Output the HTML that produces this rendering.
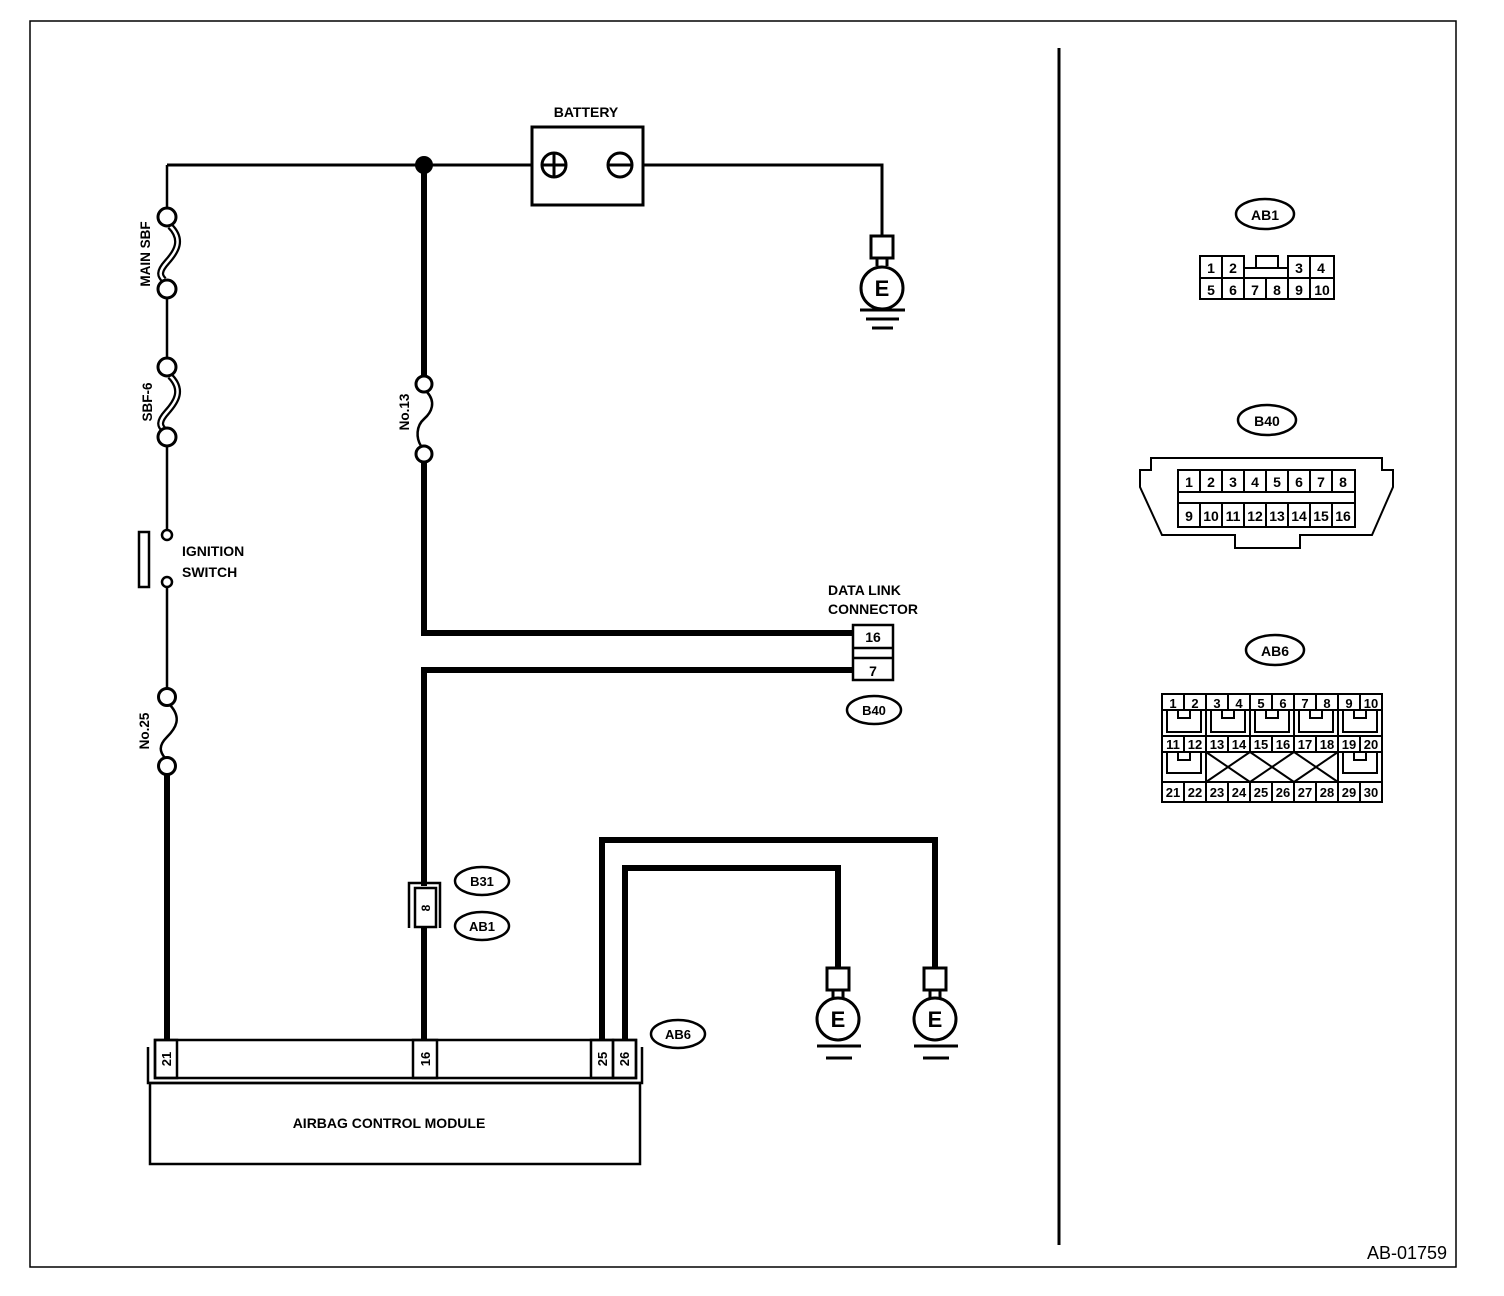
<!DOCTYPE html>
<html><head><meta charset="utf-8"><style>
html,body{margin:0;padding:0;background:#fff}
svg{display:block}
text{font-family:"Liberation Sans",Arial,sans-serif;font-weight:bold;fill:#000}
</style></head><body>
<svg width="1504" height="1296" viewBox="0 0 1504 1296" xmlns="http://www.w3.org/2000/svg">
<rect x="30" y="21" width="1426" height="1246" fill="none" stroke="#000" stroke-width="1.5"/>
<line x1="1059" y1="48" x2="1059" y2="1245" stroke="#000" stroke-width="3"/>

<g stroke="#000" fill="none">
<line x1="167" y1="165" x2="532" y2="165" stroke-width="3"/>
<polyline points="643,165 882,165 882,236" stroke-width="3"/>
<rect x="532" y="127" width="111" height="78" stroke-width="3"/>
<circle cx="554" cy="165" r="12" stroke-width="3"/>
<line x1="554" y1="153" x2="554" y2="177" stroke-width="3"/>
<line x1="542" y1="165" x2="566" y2="165" stroke-width="3"/>
<circle cx="620" cy="165" r="12" stroke-width="3" fill="#fff"/>
<line x1="608" y1="165" x2="632" y2="165" stroke-width="3"/>
</g>
<circle cx="424" cy="165" r="9" fill="#000"/>
<text x="586" y="117" font-size="14" text-anchor="middle">BATTERY</text>

<g stroke="#000" fill="none" stroke-width="3">
<rect x="871" y="236" width="22" height="22" fill="#fff"/>
<line x1="877" y1="258" x2="877" y2="266"/><line x1="887" y1="258" x2="887" y2="266"/>
<circle cx="882" cy="288" r="21" fill="#fff"/>
<line x1="860" y1="310" x2="905" y2="310"/>
<line x1="866" y1="319" x2="899" y2="319"/>
<line x1="872" y1="328" x2="893" y2="328"/>
</g>
<text x="882" y="296" font-size="22" text-anchor="middle">E</text>

<g stroke="#000" fill="none">
<line x1="167" y1="165" x2="167" y2="208" stroke-width="2.5"/>
<line x1="167" y1="298" x2="167" y2="358" stroke-width="2.5"/>
<line x1="167" y1="446" x2="167" y2="530" stroke-width="2.5"/>
<line x1="167" y1="588" x2="167" y2="688" stroke-width="2.5"/>
<line x1="167" y1="775" x2="167" y2="1040" stroke-width="6"/>
<path d="M170,226 C184,240 176,252 167,262 C158,272 160,276 164,280" stroke-width="7"/>
<path d="M170,226 C184,240 176,252 167,262 C158,272 160,276 164,280" stroke-width="2.5" stroke="#fff"/>
<circle cx="167" cy="217" r="9" stroke-width="3" fill="#fff"/>
<circle cx="167" cy="289" r="9" stroke-width="3" fill="#fff"/>
<path d="M170,376 C184,390 176,402 167,412 C158,422 160,426 164,430" stroke-width="7"/>
<path d="M170,376 C184,390 176,402 167,412 C158,422 160,426 164,430" stroke-width="2.5" stroke="#fff"/>
<circle cx="167" cy="367" r="9" stroke-width="3" fill="#fff"/>
<circle cx="167" cy="437" r="9" stroke-width="3" fill="#fff"/>
<circle cx="167" cy="535" r="5" stroke-width="2.5"/>
<circle cx="167" cy="582" r="5" stroke-width="2.5"/>
<rect x="139" y="532" width="10" height="55" stroke-width="2.5"/>
<path d="M170,705 C182,718 176,728 167,737 C158,746 160,752 165,758" stroke-width="2.5"/>
<circle cx="167" cy="697" r="8.5" stroke-width="3" fill="#fff"/>
<circle cx="167" cy="766" r="8.5" stroke-width="3" fill="#fff"/>
</g>
<text transform="translate(150,254) rotate(-90)" font-size="13.5" text-anchor="middle">MAIN SBF</text>
<text transform="translate(152,402) rotate(-90)" font-size="13.5" text-anchor="middle">SBF-6</text>
<text x="182" y="556" font-size="14">IGNITION</text>
<text x="182" y="577" font-size="14">SWITCH</text>
<text transform="translate(149,731) rotate(-90)" font-size="13.5" text-anchor="middle">No.25</text>

<g stroke="#000" fill="none">
<line x1="424" y1="165" x2="424" y2="377" stroke-width="6"/>
<path d="M427,392 C436,402 432,412 424,419 C416,426 416,438 421,446" stroke-width="2.5"/>
<circle cx="424" cy="384" r="8" stroke-width="3" fill="#fff"/>
<circle cx="424" cy="454" r="8" stroke-width="3" fill="#fff"/>
<polyline points="424,462 424,633 853,633" stroke-width="6"/>
<polyline points="853,670 424,670 424,886" stroke-width="6"/>
<line x1="424" y1="927" x2="424" y2="1040" stroke-width="6"/>
<polyline points="409,928 409,883 440,883 440,928" stroke-width="2.5"/>
<rect x="415" y="888" width="21" height="39" stroke-width="2.5" fill="#fff"/>
<rect x="853" y="625" width="40" height="55" stroke-width="2.5" fill="#fff"/>
<line x1="853" y1="648" x2="893" y2="648" stroke-width="2.5"/>
<line x1="853" y1="658" x2="893" y2="658" stroke-width="2.5"/>
<ellipse cx="874" cy="710" rx="27" ry="14" stroke-width="2.5"/>
<ellipse cx="482" cy="881" rx="27" ry="14" stroke-width="2.5"/>
<ellipse cx="482" cy="926" rx="27" ry="14" stroke-width="2.5"/>
<ellipse cx="678" cy="1034" rx="27" ry="14" stroke-width="2.5"/>
</g>
<text transform="translate(430,908) rotate(-90)" font-size="12" text-anchor="middle">8</text>
<text transform="translate(409,412) rotate(-90)" font-size="13.5" text-anchor="middle">No.13</text>
<text x="828" y="595" font-size="14">DATA LINK</text>
<text x="828" y="614" font-size="14">CONNECTOR</text>
<text x="873" y="642" font-size="14" text-anchor="middle">16</text>
<text x="873" y="676" font-size="14" text-anchor="middle">7</text>
<text x="874" y="715" font-size="13" text-anchor="middle">B40</text>
<text x="482" y="886" font-size="13" text-anchor="middle">B31</text>
<text x="482" y="931" font-size="13" text-anchor="middle">AB1</text>
<text x="678" y="1039" font-size="13" text-anchor="middle">AB6</text>

<g stroke="#000" fill="none">
<polyline points="602,1040 602,840 935,840 935,968" stroke-width="6"/>
<polyline points="625,1040 625,868 838,868 838,968" stroke-width="6"/>
<g stroke-width="3">
<rect x="827" y="968" width="22" height="22" fill="#fff"/>
<line x1="833" y1="990" x2="833" y2="998"/><line x1="843" y1="990" x2="843" y2="998"/>
<circle cx="838" cy="1019" r="21" fill="#fff"/>
<line x1="817" y1="1046" x2="861" y2="1046"/>
<line x1="826" y1="1058" x2="852" y2="1058"/>
<rect x="924" y="968" width="22" height="22" fill="#fff"/>
<line x1="930" y1="990" x2="930" y2="998"/><line x1="940" y1="990" x2="940" y2="998"/>
<circle cx="935" cy="1019" r="21" fill="#fff"/>
<line x1="914" y1="1046" x2="958" y2="1046"/>
<line x1="923" y1="1058" x2="949" y2="1058"/>
</g>
</g>
<text x="838" y="1027" font-size="22" text-anchor="middle">E</text>
<text x="935" y="1027" font-size="22" text-anchor="middle">E</text>

<g stroke="#000" fill="none" stroke-width="2.5">
<rect x="155" y="1040" width="481" height="38"/>
<polyline points="148,1047 148,1083 642,1083 642,1047"/>
<rect x="150" y="1083" width="490" height="81"/>
<rect x="155" y="1040" width="22" height="38"/>
<rect x="413" y="1040" width="24" height="38"/>
<rect x="591" y="1040" width="22" height="38"/>
<rect x="613" y="1040" width="23" height="38"/>
</g>
<text transform="translate(171,1059) rotate(-90)" font-size="13" text-anchor="middle">21</text>
<text transform="translate(430,1059) rotate(-90)" font-size="13" text-anchor="middle">16</text>
<text transform="translate(607,1059) rotate(-90)" font-size="13" text-anchor="middle">25</text>
<text transform="translate(629,1059) rotate(-90)" font-size="13" text-anchor="middle">26</text>
<text x="389" y="1128" font-size="14" text-anchor="middle">AIRBAG CONTROL MODULE</text>
<text x="1447" y="1259" font-size="18" text-anchor="end" style="font-weight:normal">AB-01759</text>

<g stroke="#000" fill="none" stroke-width="2.5">
<ellipse cx="1265" cy="214" rx="29" ry="15"/>
<ellipse cx="1267" cy="420" rx="29" ry="15"/>
<ellipse cx="1275" cy="650" rx="29" ry="15"/>
</g>
<text x="1265" y="220" font-size="14" text-anchor="middle">AB1</text>
<text x="1267" y="426" font-size="14" text-anchor="middle">B40</text>
<text x="1275" y="656" font-size="14" text-anchor="middle">AB6</text>

<g stroke="#000" fill="none" stroke-width="2">
<rect x="1200" y="256" width="134" height="43"/>
<line x1="1200" y1="278" x2="1334" y2="278"/>
<line x1="1244" y1="268" x2="1288" y2="268"/>
<rect x="1256" y="256" width="22" height="12" fill="#fff"/>
<line x1="1222" y1="256" x2="1222" y2="299"/>
<line x1="1244" y1="256" x2="1244" y2="299"/>
<line x1="1266" y1="278" x2="1266" y2="299"/>
<line x1="1288" y1="256" x2="1288" y2="299"/>
<line x1="1310" y1="256" x2="1310" y2="299"/>
</g>
<rect x="1245" y="254" width="10" height="12" fill="#fff"/>
<rect x="1279" y="254" width="8" height="12" fill="#fff"/>
<g font-size="14" text-anchor="middle" style="font-weight:normal">
<text x="1211" y="273">1</text><text x="1233" y="273">2</text><text x="1299" y="273">3</text><text x="1321" y="273">4</text>
<text x="1211" y="295">5</text><text x="1233" y="295">6</text><text x="1255" y="295">7</text><text x="1277" y="295">8</text><text x="1299" y="295">9</text><text x="1322" y="295">10</text>
</g>

<g stroke="#000" fill="none" stroke-width="2">
<polygon points="1151,458 1382,458 1382,470 1393,470 1393,487 1372,535 1300,535 1300,548 1235,548 1235,535 1162,535 1140,487 1140,470 1151,470"/>
<rect x="1178" y="470" width="177" height="57"/>
<line x1="1178" y1="492" x2="1355" y2="492"/>
<line x1="1178" y1="503" x2="1355" y2="503"/>
<path d="M1200,470V492M1222,470V492M1244,470V492M1266,470V492M1288,470V492M1310,470V492M1332,470V492"/>
<path d="M1200,503V527M1222,503V527M1244,503V527M1266,503V527M1288,503V527M1310,503V527M1332,503V527"/>
</g>
<g font-size="14" text-anchor="middle" style="font-weight:normal">
<text x="1189" y="487">1</text><text x="1211" y="487">2</text><text x="1233" y="487">3</text><text x="1255" y="487">4</text><text x="1277" y="487">5</text><text x="1299" y="487">6</text><text x="1321" y="487">7</text><text x="1343" y="487">8</text>
<text x="1189" y="521">9</text><text x="1211" y="521">10</text><text x="1233" y="521">11</text><text x="1255" y="521">12</text><text x="1277" y="521">13</text><text x="1299" y="521">14</text><text x="1321" y="521">15</text><text x="1343" y="521">16</text>
</g>

<g stroke="#000" fill="none" stroke-width="2">
<rect x="1162" y="694" width="220" height="108"/>
<line x1="1162" y1="710" x2="1382" y2="710"/>
<line x1="1162" y1="736" x2="1382" y2="736"/>
<line x1="1162" y1="752" x2="1382" y2="752"/>
<line x1="1162" y1="782" x2="1382" y2="782"/>
<path d="M1184,694V710M1206,694V710M1228,694V710M1250,694V710M1272,694V710M1294,694V710M1316,694V710M1338,694V710M1360,694V710"/>
<path d="M1184,736V752M1206,736V752M1228,736V752M1250,736V752M1272,736V752M1294,736V752M1316,736V752M1338,736V752M1360,736V752"/>
<path d="M1184,782V802M1206,782V802M1228,782V802M1250,782V802M1272,782V802M1294,782V802M1316,782V802M1338,782V802M1360,782V802"/>
<path d="M1206,710V736M1250,710V736M1294,710V736M1338,710V736"/>
<path d="M1206,752V782M1338,752V782"/>
<path d="M1167,711V732H1201V711M1178,711V718H1190V711"/>
<path d="M1211,711V732H1245V711M1222,711V718H1234V711"/>
<path d="M1255,711V732H1289V711M1266,711V718H1278V711"/>
<path d="M1299,711V732H1333V711M1310,711V718H1322V711"/>
<path d="M1343,711V732H1377V711M1354,711V718H1366V711"/>
<path d="M1167,753V773H1201V753M1178,753V760H1190V753"/>
<path d="M1343,753V773H1377V753M1354,753V760H1366V753"/>
<path d="M1206,752L1250,782M1250,752L1206,782M1250,752L1294,782M1294,752L1250,782M1294,752L1338,782M1338,752L1294,782"/>
</g>
<g font-size="13" text-anchor="middle" style="font-weight:normal">
<text x="1173" y="708">1</text><text x="1195" y="708">2</text><text x="1217" y="708">3</text><text x="1239" y="708">4</text><text x="1261" y="708">5</text><text x="1283" y="708">6</text><text x="1305" y="708">7</text><text x="1327" y="708">8</text><text x="1349" y="708">9</text><text x="1371" y="708">10</text>
<text x="1173" y="749">11</text><text x="1195" y="749">12</text><text x="1217" y="749">13</text><text x="1239" y="749">14</text><text x="1261" y="749">15</text><text x="1283" y="749">16</text><text x="1305" y="749">17</text><text x="1327" y="749">18</text><text x="1349" y="749">19</text><text x="1371" y="749">20</text>
<text x="1173" y="797">21</text><text x="1195" y="797">22</text><text x="1217" y="797">23</text><text x="1239" y="797">24</text><text x="1261" y="797">25</text><text x="1283" y="797">26</text><text x="1305" y="797">27</text><text x="1327" y="797">28</text><text x="1349" y="797">29</text><text x="1371" y="797">30</text>
</g>
</svg>
</body></html>
